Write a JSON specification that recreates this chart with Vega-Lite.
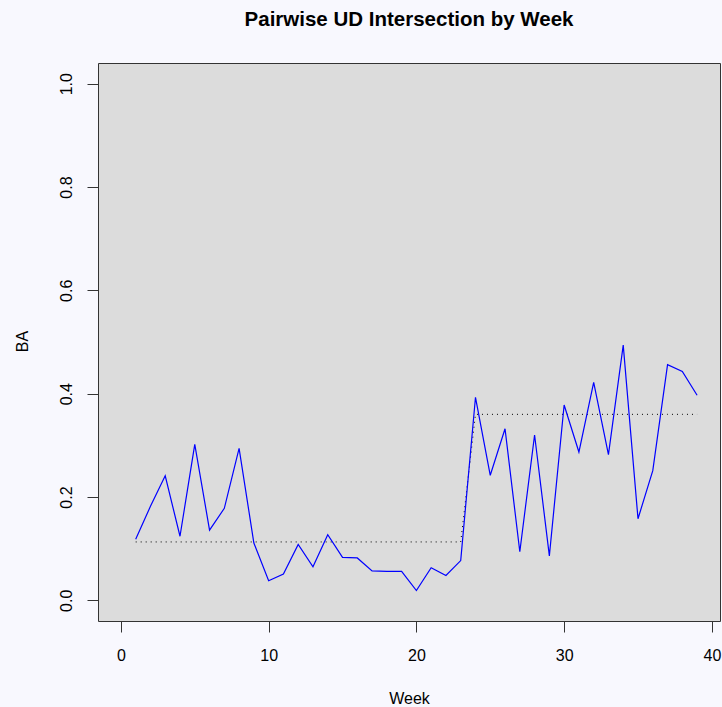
{
  "$schema": "https://vega.github.io/schema/vega-lite/v6.json",
  "width": 622,
  "height": 558,
  "autosize": {"type": "none"},
  "padding": {"left": 98, "top": 63, "right": 2, "bottom": 86},
  "background": "#F8F8FE",
  "title": {
    "text": "Pairwise UD Intersection by Week",
    "font": "Liberation Sans",
    "fontSize": 20.5,
    "fontWeight": "bold",
    "color": "#000000",
    "anchor": "middle",
    "frame": "group",
    "baseline": "alphabetic",
    "offset": 17
  },
  "config": {
    "view": {"fill": "#DCDCDC", "stroke": "#333333", "strokeWidth": 1},
    "font": "Liberation Sans",
    "axis": {
      "grid": false,
      "domain": false,
      "tickColor": "#333333",
      "tickSize": 11,
      "tickWidth": 1,
      "labelFont": "Liberation Sans",
      "labelFontSize": 16,
      "labelColor": "#000000",
      "titleFont": "Liberation Sans",
      "titleFontSize": 16,
      "titleFontWeight": "normal",
      "titleColor": "#000000"
    }
  },
  "data": {
    "values": [
      {"week": 1, "BA": 0.118, "mean": 0.113},
      {"week": 2, "BA": 0.182, "mean": 0.113},
      {"week": 3, "BA": 0.241, "mean": 0.113},
      {"week": 4, "BA": 0.124, "mean": 0.113},
      {"week": 5, "BA": 0.302, "mean": 0.113},
      {"week": 6, "BA": 0.136, "mean": 0.113},
      {"week": 7, "BA": 0.178, "mean": 0.113},
      {"week": 8, "BA": 0.294, "mean": 0.113},
      {"week": 9, "BA": 0.111, "mean": 0.113},
      {"week": 10, "BA": 0.038, "mean": 0.113},
      {"week": 11, "BA": 0.051, "mean": 0.113},
      {"week": 12, "BA": 0.108, "mean": 0.113},
      {"week": 13, "BA": 0.065, "mean": 0.113},
      {"week": 14, "BA": 0.127, "mean": 0.113},
      {"week": 15, "BA": 0.083, "mean": 0.113},
      {"week": 16, "BA": 0.082, "mean": 0.113},
      {"week": 17, "BA": 0.057, "mean": 0.113},
      {"week": 18, "BA": 0.056, "mean": 0.113},
      {"week": 19, "BA": 0.056, "mean": 0.113},
      {"week": 20, "BA": 0.019, "mean": 0.113},
      {"week": 21, "BA": 0.063, "mean": 0.113},
      {"week": 22, "BA": 0.048, "mean": 0.113},
      {"week": 23, "BA": 0.077, "mean": 0.113},
      {"week": 24, "BA": 0.393, "mean": 0.36},
      {"week": 25, "BA": 0.242, "mean": 0.36},
      {"week": 26, "BA": 0.332, "mean": 0.36},
      {"week": 27, "BA": 0.094, "mean": 0.36},
      {"week": 28, "BA": 0.32, "mean": 0.36},
      {"week": 29, "BA": 0.086, "mean": 0.36},
      {"week": 30, "BA": 0.378, "mean": 0.36},
      {"week": 31, "BA": 0.287, "mean": 0.36},
      {"week": 32, "BA": 0.422, "mean": 0.36},
      {"week": 33, "BA": 0.282, "mean": 0.36},
      {"week": 34, "BA": 0.494, "mean": 0.36},
      {"week": 35, "BA": 0.158, "mean": 0.36},
      {"week": 36, "BA": 0.251, "mean": 0.36},
      {"week": 37, "BA": 0.456, "mean": 0.36},
      {"week": 38, "BA": 0.443, "mean": 0.36},
      {"week": 39, "BA": 0.397, "mean": 0.36}
    ]
  },
  "encoding": {
    "x": {
      "field": "week",
      "type": "quantitative",
      "scale": {"domain": [-1.55, 40.55], "nice": false, "zero": false},
      "axis": {
        "title": "Week",
        "values": [0, 10, 20, 30, 40],
        "format": "d",
        "labelPadding": 15,
        "labelBaseline": "top",
        "titleBaseline": "alphabetic",
        "titleY": 82,
        "titleX": 311
      }
    }
  },
  "layer": [
    {
      "mark": {"type": "line", "color": "#000000", "strokeWidth": 1, "strokeDash": [1, 4]},
      "encoding": {
        "y": {"field": "mean", "type": "quantitative"}
      }
    },
    {
      "mark": {"type": "line", "color": "#0000FF", "strokeWidth": 1.2},
      "encoding": {
        "y": {
          "field": "BA",
          "type": "quantitative",
          "scale": {"domain": [-0.04, 1.04], "nice": false, "zero": false},
          "axis": {
            "title": "BA",
            "values": [0, 0.2, 0.4, 0.6, 0.8, 1.0],
            "format": ".1f",
            "labelAngle": -90,
            "labelAlign": "center",
            "labelBaseline": "bottom",
            "labelPadding": 13,
            "titleAngle": -90,
            "titleBaseline": "alphabetic",
            "titleAlign": "center",
            "titleX": -70.5,
            "titleY": 278
          }
        }
      }
    }
  ]
}
